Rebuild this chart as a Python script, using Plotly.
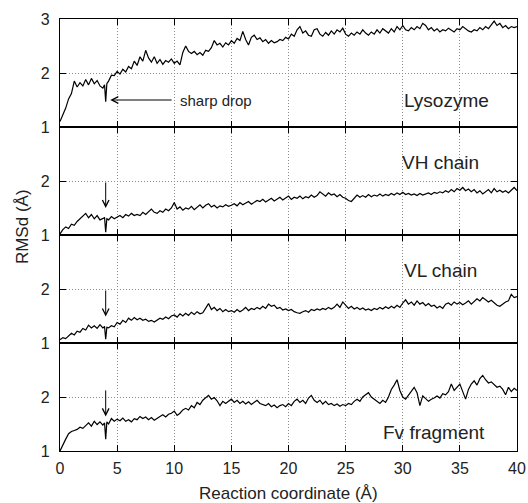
import plotly.graph_objects as go
from plotly.subplots import make_subplots

# Reaction coordinate grid (Å): 0.25 Å spacing, with extra samples around the drop at 4 Å
reaction_coord = ([round(i * 0.25, 2) for i in range(16)] + [3.9, 4.0, 4.1]
                  + [round(i * 0.25, 2) for i in range(17, 161)])

lysozyme = [
    1.10, 1.22, 1.35, 1.52, 1.62, 1.85, 1.74, 1.82, 1.76, 1.88, 1.78, 1.90, 1.80, 1.86, 1.76, 1.72,
    1.78, 1.47, 1.80,
    1.85, 1.96, 1.95, 2.03, 1.98, 2.07, 2.02, 2.12, 2.08, 2.22, 2.14, 2.30, 2.22, 2.42, 2.28,
    2.20, 2.30, 2.18, 2.25, 2.16, 2.23, 2.20, 2.26, 2.18, 2.22, 2.15, 2.38, 2.50, 2.40, 2.36, 2.40,
    2.34, 2.38, 2.33, 2.42, 2.40, 2.47, 2.60, 2.52, 2.55, 2.48, 2.56, 2.52, 2.60, 2.55, 2.64, 2.60,
    2.77, 2.62, 2.52, 2.66, 2.70, 2.62, 2.65, 2.58, 2.62, 2.55, 2.60, 2.56, 2.58, 2.62, 2.60, 2.66,
    2.63, 2.72, 2.68, 2.80, 2.86, 2.74, 2.78, 2.70, 2.68, 2.80, 2.82, 2.72, 2.68, 2.75, 2.70, 2.78,
    2.72, 2.80, 2.76, 2.83, 2.72, 2.68, 2.74, 2.70, 2.76, 2.72, 2.80, 2.74, 2.70, 2.76, 2.72, 2.80,
    2.74, 2.82, 2.78, 2.74, 2.82, 2.76, 2.86, 2.80, 2.88, 2.80, 2.78, 2.84, 2.80, 2.86, 2.82, 2.92,
    2.88, 2.80, 2.84, 2.78, 2.82, 2.76, 2.80, 2.78, 2.83, 2.80, 2.76, 2.82, 2.80, 2.86, 2.82, 2.78,
    2.76, 2.80, 2.78, 2.84, 2.80, 2.86, 2.82, 2.90, 2.96, 2.88, 2.92, 2.84, 2.88, 2.82, 2.86, 2.84,
    2.86,
]

vh_chain = [
    1.02, 1.10, 1.15, 1.12, 1.20, 1.18, 1.25, 1.30, 1.34, 1.40, 1.32, 1.38, 1.30, 1.36, 1.28, 1.30,
    1.32, 1.05, 1.30,
    1.28, 1.34, 1.30, 1.33, 1.36, 1.32, 1.38, 1.35, 1.40, 1.36, 1.38, 1.36, 1.42, 1.38, 1.44,
    1.48, 1.42, 1.40, 1.45, 1.42, 1.48, 1.45, 1.50, 1.60, 1.48, 1.52, 1.46, 1.50, 1.48, 1.53, 1.47,
    1.52, 1.56, 1.50, 1.55, 1.58, 1.52, 1.55, 1.50, 1.54, 1.52, 1.56, 1.53, 1.55, 1.58, 1.54, 1.60,
    1.56, 1.59, 1.62, 1.57, 1.60, 1.64, 1.62, 1.66, 1.61, 1.64, 1.68, 1.63, 1.66, 1.70, 1.65, 1.68,
    1.72, 1.66, 1.70, 1.68, 1.72, 1.67, 1.71, 1.69, 1.74, 1.70, 1.73, 1.80, 1.76, 1.72, 1.78, 1.74,
    1.76, 1.71, 1.75, 1.70, 1.68, 1.64, 1.62, 1.68, 1.74, 1.70, 1.73, 1.70, 1.75, 1.71, 1.74, 1.72,
    1.76, 1.72, 1.75, 1.73, 1.77, 1.74, 1.78, 1.75, 1.79, 1.75, 1.77, 1.74, 1.76, 1.73, 1.77, 1.74,
    1.76, 1.78, 1.75, 1.79, 1.77, 1.80, 1.78, 1.82, 1.79, 1.84, 1.80, 1.86, 1.83, 1.88, 1.82, 1.85,
    1.80, 1.84, 1.78, 1.82, 1.76, 1.80, 1.84, 1.78, 1.86, 1.80, 1.83, 1.79, 1.82, 1.78, 1.84, 1.88,
    1.82,
]

vl_chain = [
    1.06, 1.10, 1.08, 1.14, 1.18, 1.15, 1.22, 1.20, 1.27, 1.24, 1.33, 1.28, 1.32, 1.27, 1.34, 1.28,
    1.30, 1.07, 1.29,
    1.28, 1.32, 1.30, 1.38, 1.35, 1.42, 1.38, 1.46, 1.42, 1.47, 1.43, 1.46, 1.42, 1.44, 1.40,
    1.42, 1.39, 1.43, 1.46, 1.44, 1.48, 1.45, 1.50, 1.52, 1.48, 1.54, 1.50, 1.55, 1.51, 1.57, 1.53,
    1.58, 1.54, 1.56, 1.65, 1.73, 1.62, 1.66, 1.60, 1.64, 1.58, 1.62, 1.58, 1.60, 1.57, 1.62, 1.58,
    1.61, 1.66, 1.60, 1.64, 1.62, 1.66, 1.63, 1.68, 1.64, 1.72, 1.68, 1.70, 1.64, 1.66, 1.61, 1.63,
    1.60, 1.62, 1.58, 1.56, 1.55, 1.58, 1.60, 1.57, 1.62, 1.60, 1.63, 1.61, 1.64, 1.62, 1.66, 1.63,
    1.66, 1.72, 1.66, 1.76, 1.70, 1.64, 1.68, 1.63, 1.66, 1.62, 1.65, 1.61, 1.63, 1.60, 1.64, 1.62,
    1.66, 1.63, 1.67, 1.64, 1.68, 1.65, 1.70, 1.66, 1.74, 1.80, 1.72, 1.76, 1.70, 1.78, 1.72, 1.75,
    1.69, 1.73, 1.68, 1.70, 1.65, 1.68, 1.64, 1.72, 1.74, 1.70, 1.76, 1.72, 1.75, 1.71, 1.74, 1.78,
    1.72, 1.77, 1.82, 1.78, 1.84, 1.80, 1.76, 1.79, 1.74, 1.70, 1.68, 1.72, 1.76, 1.78, 1.90, 1.84,
    1.86,
]

fv_fragment = [
    1.00, 1.12, 1.22, 1.32, 1.36, 1.38, 1.40, 1.44, 1.42, 1.47, 1.52, 1.46, 1.55, 1.49, 1.54, 1.48,
    1.52, 1.22, 1.54,
    1.50, 1.60, 1.55, 1.59, 1.56, 1.61, 1.55, 1.58, 1.54, 1.60, 1.58, 1.64, 1.60, 1.63, 1.58,
    1.62, 1.57, 1.61, 1.64, 1.67, 1.63, 1.68, 1.70, 1.74, 1.66, 1.70, 1.76, 1.79, 1.76, 1.84, 1.80,
    1.90, 1.86, 1.94, 1.98, 2.03, 1.96, 1.99, 1.93, 1.84, 1.92, 1.88, 1.92, 1.96, 1.90, 1.94, 1.88,
    1.92, 1.87, 1.91, 1.86, 1.90, 1.94, 1.88, 1.86, 1.84, 1.88, 1.82, 1.85, 1.80, 1.84, 1.86, 1.82,
    1.88, 1.84, 1.92, 1.96, 1.90, 1.94, 1.88, 1.98, 2.03, 1.94, 1.90, 1.94, 1.87, 1.92, 1.86, 1.88,
    1.84, 1.87, 1.83, 1.86, 1.84, 1.88, 1.86, 1.92, 1.96, 1.92, 2.00, 2.04, 2.08, 2.00, 1.96, 1.92,
    1.88, 1.94, 1.90, 2.00, 2.14, 2.22, 2.32, 2.12, 2.00, 1.96, 2.04, 2.12, 2.18, 2.08, 1.84, 2.02,
    1.96, 1.92, 1.96, 1.98, 2.02, 1.98, 2.06, 2.04, 2.10, 2.24, 2.12, 2.18, 2.24, 2.10, 1.96, 2.14,
    2.24, 2.30, 2.22, 2.34, 2.40, 2.32, 2.26, 2.28, 2.22, 2.18, 2.20, 2.14, 2.04, 2.18, 2.10, 2.16,
    2.12,
]

series = [lysozyme, vh_chain, vl_chain, fv_fragment]
panel_labels = ["Lysozyme", "VH chain", "VL chain", "Fv fragment"]
x_ticks = [0, 5, 10, 15, 20, 25, 30, 35, 40]

FONT = "Liberation Sans, Arial, Helvetica, sans-serif"
TEXT = "#222"

fig = make_subplots(rows=4, cols=1, shared_xaxes=True, vertical_spacing=0)

for i, ys in enumerate(series):
    fig.add_trace(
        go.Scatter(x=reaction_coord, y=ys, mode="lines",
                   line=dict(color="black", width=1.2), showlegend=False,
                   hoverinfo="skip"),
        row=i + 1, col=1,
    )

axis_common = dict(
    showline=True, linecolor="black", linewidth=1.3, mirror="allticks",
    ticks="inside", ticklen=6, tickwidth=1, tickcolor="black",
    showgrid=True, gridcolor="#8c8c8c", griddash="1px,2px", gridwidth=1,
    zeroline=False, automargin=False,
    tickfont=dict(family=FONT, size=16, color=TEXT),
)

for i in range(4):
    fig.update_xaxes(range=[0, 40], tickvals=x_ticks, ticklabelstandoff=3,
                     **axis_common, row=i + 1, col=1)
    fig.update_yaxes(range=[1, 3], tickvals=[1, 2, 3],
                     ticktext=["1", "2", "3"] if i == 0 else ["1", "2", ""],
                     ticklabelstandoff=6, **axis_common, row=i + 1, col=1)

annotations = []
label_pos = [(33.8, 1.5), (33.3, 2.35), (33.3, 2.35), (32.7, 1.35)]
yrefs = ["y", "y2", "y3", "y4"]
for lab, (lx, ly), yr in zip(panel_labels, label_pos, yrefs):
    annotations.append(dict(text=lab, x=lx, y=ly, xref="x", yref=yr,
                            showarrow=False, xanchor="center", yanchor="middle",
                            font=dict(family=FONT, size=19, color=TEXT)))

# "sharp drop" annotation with horizontal arrow
annotations.append(dict(text="sharp drop", x=10.3, y=1.5, xref="x", yref="y",
                        showarrow=False, xanchor="left", yanchor="middle",
                        font=dict(family=FONT, size=15, color=TEXT)))
annotations.append(dict(text="", x=4.4, y=1.5, ax=9.9, ay=1.5, xref="x", yref="y",
                        axref="x", ayref="y", showarrow=True, arrowhead=5,
                        arrowsize=1.3, arrowwidth=1, arrowcolor="black"))

# vertical arrows at the drop in the lower panels
for yr, (tail, head) in zip(["y2", "y3", "y4"], [(2.0, 1.5), (2.0, 1.49), (2.15, 1.64)]):
    annotations.append(dict(text="", x=4.0, y=head, ax=4.0, ay=tail, xref="x", yref=yr,
                            axref="x", ayref=yr, showarrow=True, arrowhead=5,
                            arrowsize=1.3, arrowwidth=1, arrowcolor="black"))

# axis titles
annotations.append(dict(text="Reaction coordinate (Å)", x=0.5, y=-0.0995,
                        xref="paper", yref="paper", showarrow=False,
                        xanchor="center", yanchor="middle",
                        font=dict(family=FONT, size=17, color=TEXT)))
annotations.append(dict(text="RMSd (Å)", x=-0.083, y=0.5185,
                        xref="paper", yref="paper", showarrow=False,
                        textangle=-90, xanchor="center", yanchor="middle",
                        font=dict(family=FONT, size=17, color=TEXT)))

fig.update_layout(
    width=528, height=503,
    margin=dict(l=60, r=11, t=19, b=52, autoexpand=False),
    plot_bgcolor="white", paper_bgcolor="white",
    annotations=annotations,
)

fig.write_html("out.html", config={"displayModeBar": False},
               post_script="document.body.style.margin='0';document.body.style.padding='0';")
